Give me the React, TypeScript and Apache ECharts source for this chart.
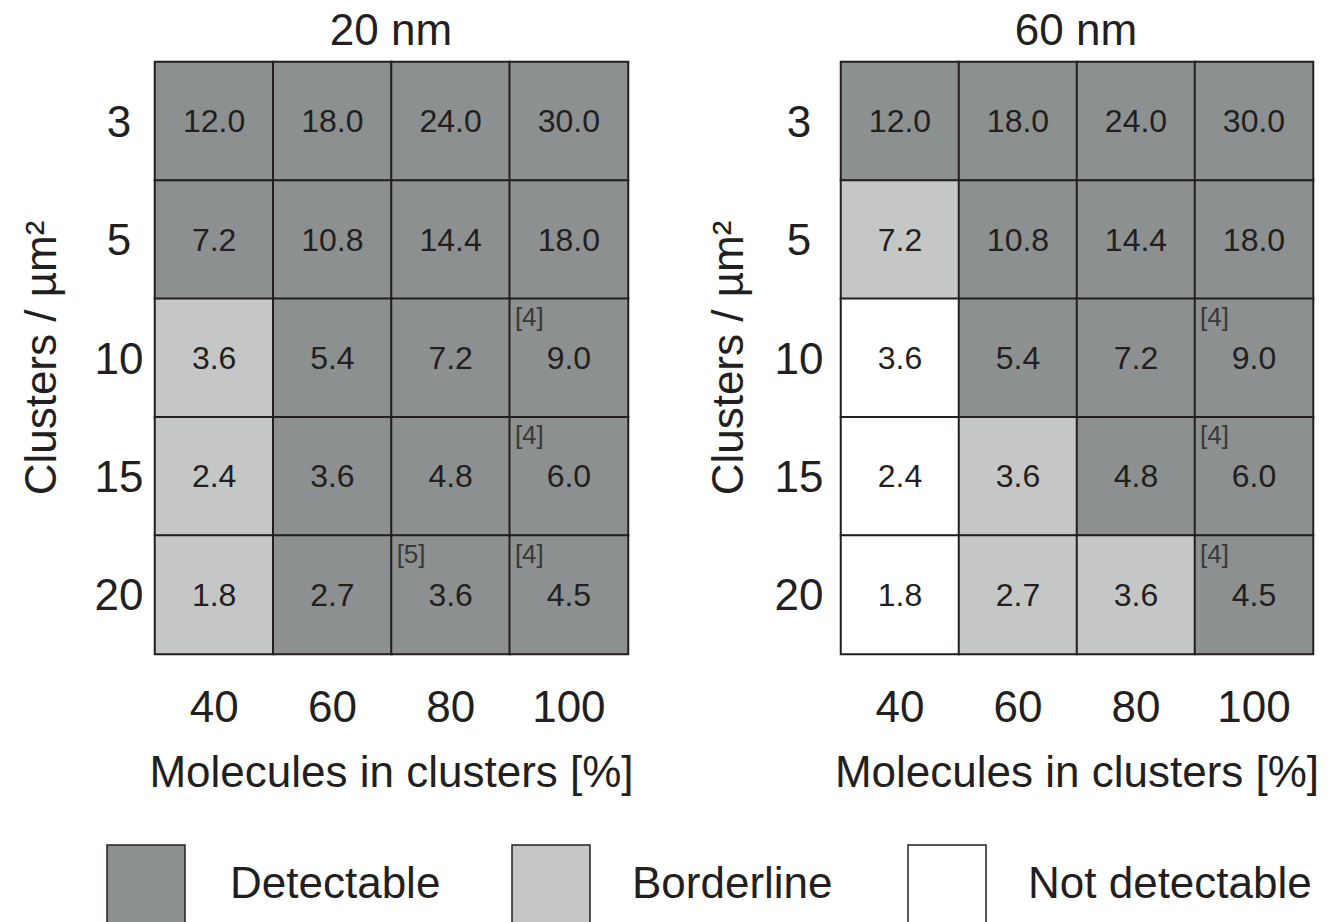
import React, { useEffect, useRef } from "react";
import * as echarts from "echarts";

const xCats = ["40", "60", "80", "100"];
const yCats = ["3", "5", "10", "15", "20"];
const values = [
  [12.0, 18.0, 24.0, 30.0],
  [7.2, 10.8, 14.4, 18.0],
  [3.6, 5.4, 7.2, 9.0],
  [2.4, 3.6, 4.8, 6.0],
  [1.8, 2.7, 3.6, 4.5],
];
// 2 = Detectable, 1 = Borderline, 0 = Not detectable
const status20 = [
  [2, 2, 2, 2],
  [2, 2, 2, 2],
  [1, 2, 2, 2],
  [1, 2, 2, 2],
  [1, 2, 2, 2],
];
const status60 = [
  [2, 2, 2, 2],
  [1, 2, 2, 2],
  [0, 2, 2, 2],
  [0, 1, 2, 2],
  [0, 1, 1, 2],
];
const notes20 = [
  ["", "", "", ""],
  ["", "", "", ""],
  ["", "", "", "[4]"],
  ["", "", "", "[4]"],
  ["", "", "[5]", "[4]"],
];
const notes60 = [
  ["", "", "", ""],
  ["", "", "", ""],
  ["", "", "", "[4]"],
  ["", "", "", "[4]"],
  ["", "", "", "[4]"],
];
const panelTitles = ["20 nm", "60 nm"];
const legendNames = ["Detectable", "Borderline", "Not detectable"];

const COLORS = ["#ffffff", "#c5c7c6", "#8c9090"];
const INK = "#231f20";
const FONT = "Liberation Sans, Arial, sans-serif";

function heatData(status: number[][]) {
  const out: any[] = [];
  for (let r = 0; r < yCats.length; r++)
    for (let c = 0; c < xCats.length; c++)
      out.push([c, r, status[r][c], values[r][c]]);
  return out;
}
function noteData(notes: string[][]) {
  const out: any[] = [];
  for (let r = 0; r < yCats.length; r++)
    for (let c = 0; c < xCats.length; c++)
      if (notes[r][c]) out.push({ value: [c, r], note: notes[r][c] });
  return out;
}

export default function App() {
  const ref = useRef<HTMLDivElement>(null);
  useEffect(() => {
    const chart = echarts.init(ref.current!, null, { renderer: "svg" });
    const grids = [
      { left: 155, top: 62, width: 473, height: 592 },
      { left: 841, top: 62, width: 472, height: 592 },
    ];
    const xAxes = grids.map((_, i) => ({
      type: "category",
      gridIndex: i,
      data: xCats,
      position: "bottom",
      axisLine: { show: false },
      axisTick: { show: false },
      splitLine: { show: false },
      axisLabel: { fontSize: 44, color: INK, fontFamily: FONT, margin: 30 },
      name: "Molecules in clusters [%]",
      nameLocation: "middle",
      nameGap: 95,
      nameTextStyle: { fontSize: 44, color: INK, fontFamily: FONT },
    }));
    const yAxes = grids.map((_, i) => ({
      type: "category",
      gridIndex: i,
      data: yCats,
      inverse: true,
      axisLine: { show: false },
      axisTick: { show: false },
      splitLine: { show: false },
      axisLabel: {
        fontSize: 44,
        color: INK,
        fontFamily: FONT,
        margin: i === 0 ? 36 : 42,
        align: "center",
      },
      name: "Clusters / µm²",
      nameLocation: "middle",
      nameGap: i === 0 ? 93 : 92,
      nameRotate: 90,
      nameTextStyle: { fontSize: 44, color: INK, fontFamily: FONT },
    }));
    const statuses = [status20, status60];
    const notes = [notes20, notes60];
    const series: any[] = [];
    for (let i = 0; i < 2; i++) {
      series.push({
        type: "heatmap",
        xAxisIndex: i,
        yAxisIndex: i,
        data: heatData(statuses[i]),
        itemStyle: { borderColor: INK, borderWidth: 2 },
        label: {
          show: true,
          fontSize: 32,
          color: INK,
          fontFamily: FONT,
          formatter: (p: any) => p.value[3].toFixed(1),
        },
        emphasis: { disabled: true },
      });
    }
    for (let i = 0; i < 2; i++) {
      series.push({
        type: "scatter",
        xAxisIndex: i,
        yAxisIndex: i,
        symbolSize: 0,
        data: noteData(notes[i]),
        label: {
          show: true,
          position: "inside",
          align: "left",
          verticalAlign: "middle",
          offset: [-54, -41],
          fontSize: 26,
          color: INK,
          fontFamily: FONT,
          formatter: (p: any) => p.data.note,
        },
        emphasis: { disabled: true },
      });
    }
    const legendX = [107, 512, 908];
    const legendTextX = [230, 632, 1028];
    const legendColors = [COLORS[2], COLORS[1], COLORS[0]];
    const graphic: any[] = [];
    legendNames.forEach((n, i) => {
      graphic.push({
        type: "rect",
        shape: { x: legendX[i], y: 845, width: 78, height: 80 },
        style: { fill: legendColors[i], stroke: INK, lineWidth: 1.5 },
      });
      graphic.push({
        type: "text",
        x: legendTextX[i],
        y: 882,
        style: {
          text: n,
          fontSize: 44,
          fill: INK,
          fontFamily: FONT,
          textVerticalAlign: "middle",
          verticalAlign: "middle",
        },
      });
    });
    const titleCenters = [386, 1071];
    chart.setOption({
      animation: false,
      backgroundColor: "#ffffff",
      title: panelTitles.map((t, i) => ({
        text: t,
        left: titleCenters[i],
        top: 2,
        textAlign: "center",
        textStyle: { fontSize: 44, fontWeight: "normal", color: INK, fontFamily: FONT },
      })),
      grid: grids,
      xAxis: xAxes,
      yAxis: yAxes,
      visualMap: {
        show: false,
        type: "piecewise",
        dimension: 2,
        seriesIndex: [0, 1],
        pieces: [
          { value: 0, color: COLORS[0] },
          { value: 1, color: COLORS[1] },
          { value: 2, color: COLORS[2] },
        ],
      },
      series,
      graphic,
    });
    return () => chart.dispose();
  }, []);
  return (
    <div
      ref={ref}
      style={{ position: "fixed", left: 0, top: 0, width: 1336, height: 922 }}
    />
  );
}
